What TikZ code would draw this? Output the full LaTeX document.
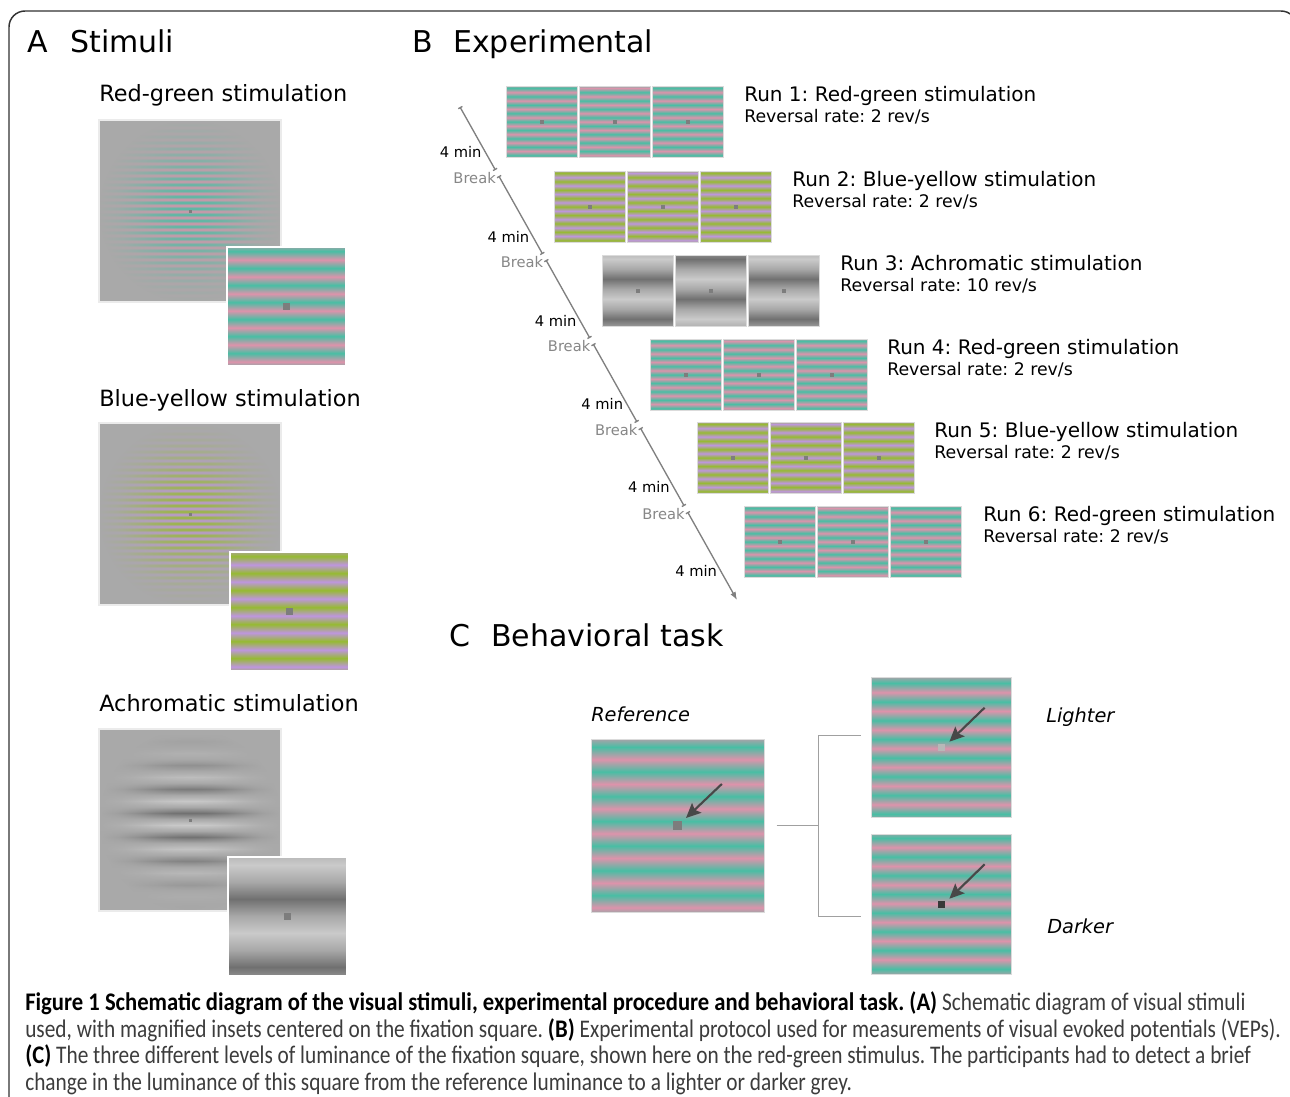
\documentclass[tikz,border=0pt]{standalone}
\usepackage{fontspec}
\setmainfont{DejaVu Sans}
\newfontfamily\capfont{Carlito}[FakeStretch=0.842]
\newfontfamily\capboldfont{Carlito}[FakeStretch=0.894]
\usetikzlibrary{arrows.meta,fadings}
\frenchspacing

\definecolor{rgpink}{RGB}{221,147,171}
\definecolor{rgteal}{RGB}{72,190,164}
\colorlet{rgmid}{rgpink!50!rgteal}
\definecolor{bypurple}{RGB}{190,150,222}
\definecolor{bygreen}{RGB}{150,186,50}
\colorlet{bymid}{bypurple!50!bygreen}
\definecolor{aclight}{RGB}{202,202,202}
\definecolor{acdark}{RGB}{112,112,112}
\definecolor{acmid}{RGB}{168,168,168}
\definecolor{bggray}{RGB}{169,169,169}
\definecolor{fixgray}{RGB}{125,125,125}
\definecolor{linegray}{RGB}{128,128,128}
\definecolor{breakgray}{RGB}{135,135,135}
\definecolor{framecol}{RGB}{50,50,50}
\definecolor{arrowcol}{RGB}{72,72,72}
\definecolor{bracketcol}{RGB}{160,160,160}
\definecolor{captext}{RGB}{60,60,60}

\pgfdeclareradialshading{gaussshading}{\pgfpoint{0bp}{0bp}}{color(0bp)=(black); color(5bp)=(white!6!black); color(10bp)=(white!28!black); color(15bp)=(white!58!black); color(20bp)=(white!85!black); color(25bp)=(white); color(50bp)=(white)}
\pgfdeclarefading{gaussfade}{\pgfuseshading{gaussshading}}

% x0, y0, size, period, offset, colA, colB, mid
\newcommand\stripesq[8]{%
  \begin{scope}
    \clip (#1,#2) rectangle ++(#3,#3);
    \fill[#8] (#1,#2) rectangle ++(#3,#3);
    \pgfmathsetmacro\hpx{#4/2}%
    \pgfmathtruncatemacro\nbx{ceil(#3/\hpx)+4}%
    \foreach \k in {-3,...,\nbx} {%
      \pgfmathsetmacro\yyx{#2-(#5)+\k*\hpx}%
      \pgfmathtruncatemacro\kpx{mod(\k+100,2)}%
      \ifnum\kpx=0
        \shade[top color=#8, bottom color=#8, middle color=#6] (#1,\yyx) rectangle ++(#3,\hpx);%
      \else
        \shade[top color=#8, bottom color=#8, middle color=#7] (#1,\yyx) rectangle ++(#3,\hpx);%
      \fi
    }%
  \end{scope}}
% cx, cy, size, colour
\newcommand\fixsq[4]{\fill[#4] ({#1-#3/2},{#2-#3/2}) rectangle ++(#3,#3);}

\newcommand\chromrow[5]{%
  \foreach \j in {0,1,2} {%
    \pgfmathsetmacro\sqx{#1+73.3*\j}%
    \ifodd\j
      \stripesq{\sqx}{#2}{71}{8.4}{0}{#3}{#4}{#5}%
    \else
      \stripesq{\sqx}{#2}{71}{8.4}{4.2}{#3}{#4}{#5}%
    \fi
    \draw[sqborder] (\sqx,#2) rectangle ++(71,71);%
    \fixsq{\sqx+35.5}{#2+35.5}{4}{fixgray}%
  }}
\newcommand\achrow[2]{%
  \foreach \j in {0,1,2} {%
    \pgfmathsetmacro\sqx{#1+73.3*\j}%
    \ifodd\j
      \stripesq{\sqx}{#2}{71}{40}{6}{acdark}{aclight}{acmid}%
    \else
      \stripesq{\sqx}{#2}{71}{40}{6}{aclight}{acdark}{acmid}%
    \fi
    \draw[sqborder] (\sqx,#2) rectangle ++(71,71);%
    \fixsq{\sqx+35.5}{#2+35.5}{4}{fixgray}%
  }}
\newcommand\capbold[1]{{\capboldfont\bfseries\color{black}#1}}

\begin{document}
\begin{tikzpicture}[x=0.75pt,y=-0.75pt,
  title/.style={font=\fontsize{22.5}{27}\selectfont, anchor=base west, inner sep=0pt},
  subtitle/.style={font=\fontsize{16.8}{20}\selectfont, anchor=base west, inner sep=0pt},
  runlab/.style={font=\fontsize{15}{18}\selectfont, anchor=base west, inner sep=0pt},
  ratelab/.style={font=\fontsize{13}{16}\selectfont, anchor=base west, inner sep=0pt},
  minlab/.style={font=\fontsize{11}{13}\selectfont, anchor=base east, inner sep=0pt},
  breaklab/.style={minlab, text=breakgray},
  condlab/.style={font=\fontsize{14.5}{17}\selectfont\itshape, anchor=base west, inner sep=0pt},
  caplab/.style={font=\capfont\fontsize{19}{23}\selectfont, anchor=base west, inner sep=0pt, text=captext},
  sqborder/.style={draw=black!14, line width=0.6pt},
  bigborder/.style={draw=black!8, line width=0.8pt},
  tl/.style={draw=linegray, line width=1pt},
  pointer/.style={draw=arrowcol, line width=1.6pt, -{Stealth[length=11pt,width=10pt,inset=2pt]}},
  bracket/.style={draw=bracketcol, line width=1.1pt},
]
\useasboundingbox (0,0) rectangle (1290,1097);
\clip (0,0) rectangle (1290,1097);
\fill[white] (0,0) rectangle (1290,1097);

% frame
\draw[framecol, line width=1.1pt, rounded corners=12pt] (9,1120) -- (9,11) -- (1297,11) -- (1297,1120);

% ---------------- Panel A ----------------
\node[title] (tA) at (27,52) {A};
\node[title] (tAs) at (70,52) {Stimuli};

\node[subtitle] (sRG) at (99,101) {Red-green stimulation};
\stripesq{99}{120}{182}{6}{0}{rgpink}{rgteal}{rgmid}
\fill[bggray, path fading=gaussfade] (99,120) rectangle ++(182,182);
\draw[bigborder] (99,120) rectangle ++(182,182);
\fixsq{190}{211}{3}{fixgray}
\stripesq{227}{247}{119}{17}{8.5}{rgpink}{rgteal}{rgmid}
\draw[white, line width=1.5pt] (227,247) rectangle ++(119,119);
\fixsq{286.5}{306.5}{7}{fixgray}

\node[subtitle] (sBY) at (99,406) {Blue-yellow stimulation};
\stripesq{99}{423}{182}{6}{0}{bypurple}{bygreen}{bymid}
\fill[bggray, path fading=gaussfade] (99,423) rectangle ++(182,182);
\draw[bigborder] (99,423) rectangle ++(182,182);
\fixsq{190}{514}{3}{fixgray}
\stripesq{230}{552}{119}{17}{8.5}{bypurple}{bygreen}{bymid}
\draw[white, line width=1.5pt] (230,552) rectangle ++(119,119);
\fixsq{289.5}{611.5}{7}{fixgray}

\node[subtitle] (sAC) at (99,711) {Achromatic stimulation};
\stripesq{99}{729}{182}{24}{-6}{acdark}{aclight}{acmid}
\fill[bggray, path fading=gaussfade] (99,729) rectangle ++(182,182);
\draw[bigborder] (99,729) rectangle ++(182,182);
\fixsq{190}{820}{3}{fixgray}
\stripesq{228}{857}{119}{68}{9}{aclight}{acdark}{acmid}
\draw[white, line width=1.5pt] (228,857) rectangle ++(119,119);
\fixsq{287.5}{916.5}{7}{fixgray}

% ---------------- Panel B ----------------
\node[title] (tB) at (412,52) {B};
\node[title] (tBs) at (453,52) {Experimental};

\chromrow{506}{86}{rgpink}{rgteal}{rgmid}
\chromrow{554}{171}{bypurple}{bygreen}{bymid}
\achrow{602}{255}
\chromrow{650}{339}{rgpink}{rgteal}{rgmid}
\chromrow{697}{422}{bypurple}{bygreen}{bymid}
\chromrow{744}{506}{rgpink}{rgteal}{rgmid}

\node[runlab] (r1) at (744,101) {Run 1: Red-green stimulation};
\node[ratelab] (q1) at (744,122) {Reversal rate: 2 rev/s};
\node[runlab] (r2) at (792,186) {Run 2: Blue-yellow stimulation};
\node[ratelab] (q2) at (792,207) {Reversal rate: 2 rev/s};
\node[runlab] (r3) at (840,270) {Run 3: Achromatic stimulation};
\node[ratelab] (q3) at (840,291) {Reversal rate: 10 rev/s};
\node[runlab] (r4) at (887,354) {Run 4: Red-green stimulation};
\node[ratelab] (q4) at (887,375) {Reversal rate: 2 rev/s};
\node[runlab] (r5) at (934,437) {Run 5: Blue-yellow stimulation};
\node[ratelab] (q5) at (934,458) {Reversal rate: 2 rev/s};
\node[runlab] (r6) at (983,521) {Run 6: Red-green stimulation};
\node[ratelab] (q6) at (983,542) {Reversal rate: 2 rev/s};

% timeline
\coordinate (t0) at (460,107);
\coordinate (a1) at (495.4,170); \coordinate (b1) at (498.8,176);
\coordinate (a2) at (542.6,254); \coordinate (b2) at (546.0,260);
\coordinate (a3) at (589.8,338); \coordinate (b3) at (593.2,344);
\coordinate (a4) at (637.0,422); \coordinate (b4) at (640.4,428);
\coordinate (a5) at (684.2,506); \coordinate (b5) at (687.6,512);
\coordinate (tend) at (737,600);
\draw[tl, {Bar[width=3.5pt]}-{Bar[width=3.5pt]}] (t0) -- (a1);
\draw[tl, {Bar[width=3.5pt]}-{Bar[width=3.5pt]}] (b1) -- (a2);
\draw[tl, {Bar[width=3.5pt]}-{Bar[width=3.5pt]}] (b2) -- (a3);
\draw[tl, {Bar[width=3.5pt]}-{Bar[width=3.5pt]}] (b3) -- (a4);
\draw[tl, {Bar[width=3.5pt]}-{Bar[width=3.5pt]}] (b4) -- (a5);
\draw[tl, {Bar[width=3.5pt]}-{Latex[length=6pt,width=4.5pt]}] (b5) -- (tend);

\node[minlab] (m1) at (481.8,157) {4 min};
\node[minlab] (m2) at (529.5,242) {4 min};
\node[minlab] (m3) at (576.7,326) {4 min};
\node[minlab] (m4) at (623.4,409) {4 min};
\node[minlab] (m5) at (670.0,492) {4 min};
\node[minlab] (m6) at (717.2,576) {4 min};
\node[breaklab] (k1) at (496.0,183) {Break};
\node[breaklab] (k2) at (543.3,267) {Break};
\node[breaklab] (k3) at (590.5,351) {Break};
\node[breaklab] (k4) at (637.7,435) {Break};
\node[breaklab] (k5) at (684.9,519) {Break};

% ---------------- Panel C ----------------
\node[title] (tC) at (449,646) {C};
\node[title] (tCs) at (491,646) {Behavioral task};

\node[condlab] (lref) at (591,721) {Reference};
\stripesq{591}{739}{173}{24.7}{10.5}{rgpink}{rgteal}{rgmid}
\draw[sqborder] (591,739) rectangle ++(173,173);
\fixsq{677.5}{825.5}{9}{fixgray}
\coordinate (refA) at (721.8,784); \coordinate (refT) at (686,818);
\draw[pointer] (refA) -- (refT);

\node[condlab] (llig) at (1046,722) {Lighter};
\stripesq{871}{677}{140}{18.7}{8}{rgpink}{rgteal}{rgmid}
\draw[sqborder] (871,677) rectangle ++(140,140);
\fixsq{941}{747}{7}{black!28}
\coordinate (ligA) at (984.6,707.7); \coordinate (ligT) at (949.4,741.7);
\draw[pointer] (ligA) -- (ligT);

\node[condlab] (ldar) at (1047,933) {Darker};
\stripesq{871}{834}{140}{18.7}{10}{rgpink}{rgteal}{rgmid}
\draw[sqborder] (871,834) rectangle ++(140,140);
\fixsq{941}{904}{7}{black!78}
\coordinate (darA) at (984.6,864.3); \coordinate (darT) at (949.4,898.7);
\draw[pointer] (darA) -- (darT);

\coordinate (bs) at (776.7,825.7);
\coordinate (bm) at (818.4,825.7);
\coordinate (bt) at (818.4,735.7);
\coordinate (bb) at (818.4,916.7);
\coordinate (btr) at (860.7,735.7);
\coordinate (bbr) at (860.7,916.7);
\draw[bracket] (bs) -- (bm);
\draw[bracket] (btr) -- (bt) -- (bb) -- (bbr);

% ---------------- Caption ----------------
\node[caplab] (c1) at (25,1010) {\capbold{Figure 1 Schematic diagram of the visual stimuli, experimental procedure and behavioral task. (A)} Schematic diagram of visual stimuli};
\node[caplab] (c2) at (25,1037) {used, with magnified insets centered on the fixation square. \capbold{(B)} Experimental protocol used for measurements of visual evoked potentials (VEPs).};
\node[caplab] (c3) at (25,1063) {\capbold{(C)} The three different levels of luminance of the fixation square, shown here on the red-green stimulus. The participants had to detect a brief};
\node[caplab] (c4) at (25,1090) {change in the luminance of this square from the reference luminance to a lighter or darker grey.};
\end{tikzpicture}
\end{document}
